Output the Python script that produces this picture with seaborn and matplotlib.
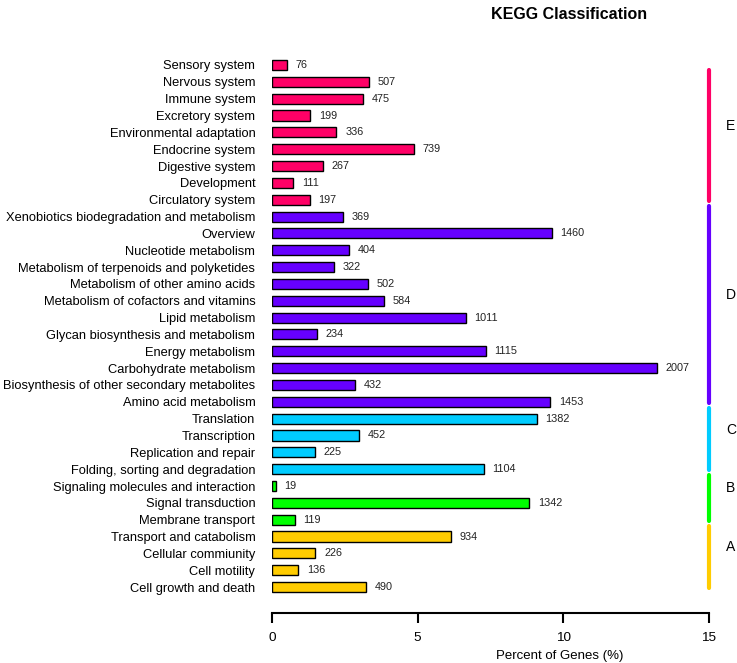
import seaborn as sns
import matplotlib.pyplot as plt
import pandas as pd

# KEGG level-2 categories, listed top to bottom as in the chart
categories = [
    "Sensory system", "Nervous system", "Immune system", "Excretory system",
    "Environmental adaptation", "Endocrine system", "Digestive system",
    "Development", "Circulatory system",
    "Xenobiotics biodegradation and metabolism", "Overview",
    "Nucleotide metabolism", "Metabolism of terpenoids and polyketides",
    "Metabolism of other amino acids", "Metabolism of cofactors and vitamins",
    "Lipid metabolism", "Glycan biosynthesis and metabolism",
    "Energy metabolism", "Carbohydrate metabolism",
    "Biosynthesis of other secondary metabolites", "Amino acid metabolism",
    "Translation", "Transcription", "Replication and repair",
    "Folding, sorting and degradation",
    "Signaling molecules and interaction", "Signal transduction",
    "Membrane transport",
    "Transport and catabolism", "Cellular commiunity", "Cell motility",
    "Cell growth and death",
]
gene_counts = [
    76, 507, 475, 199, 336, 739, 267, 111, 197,
    369, 1460, 404, 322, 502, 584, 1011, 234, 1115, 2007, 432, 1453,
    1382, 452, 225, 1104,
    19, 1342, 119,
    934, 226, 136, 490,
]
groups = ["E"] * 9 + ["D"] * 12 + ["C"] * 4 + ["B"] * 3 + ["A"] * 4
total_genes = 15200  # (2007 genes ~ 13.2 %)

group_colors = {"E": "#FF0066", "D": "#6600FF", "C": "#00CCFF",
                "B": "#00FF00", "A": "#FFCC00"}

df = pd.DataFrame({"category": categories, "count": gene_counts, "group": groups})
df["percent"] = df["count"] / total_genes * 100

sns.set_style("white")
plt.rcParams["font.family"] = ["Liberation Sans", "DejaVu Sans"]
plt.rcParams.update({"text.color": "black", "axes.labelcolor": "black",
                     "xtick.color": "black", "ytick.color": "black",
                     "axes.edgecolor": "black"})

fig = plt.figure(figsize=(7.37, 6.63), dpi=100)
ax = fig.add_axes([0.3691, 0.0754, 0.5929, 0.8647])

sns.barplot(data=df, y="category", x="percent", hue="group",
            palette=group_colors, saturation=1, dodge=False, width=0.6,
            edgecolor="black", linewidth=1.0, legend=False, ax=ax)

# gene counts at the end of each bar
for i, row in df.iterrows():
    ax.text(row["percent"] + 0.3, i, str(row["count"]), va="center",
            ha="left", fontsize=7.8, color="#222222")

# group brackets on the right
for g in ["E", "D", "C", "B", "A"]:
    idx = df.index[df["group"] == g]
    top = max(idx.min() - 0.63, 0.3)
    bottom = idx.max() + 0.06
    ax.plot([15, 15], [top, bottom], color=group_colors[g], lw=3,
            solid_capstyle="round", clip_on=False)
    ax.text(15.75, (top + bottom) / 2 - 0.57, g, ha="center", va="center",
            fontsize=10, clip_on=False)

ax.set_xlim(0, 15)
ax.set_ylim(32.54, -1.5)
ax.set_xticks([0, 5, 10, 15])
ax.tick_params(axis="x", length=7, width=1.5, labelsize=9.7, pad=7,
               direction="out", bottom=True)
ax.tick_params(axis="y", length=0, labelsize=9.3, pad=12)
ax.set_ylabel("")
ax.set_xlabel("Percent of Genes (%)", fontsize=9.5)
ax.xaxis.set_label_coords(0.659, -0.065)

for s in ["top", "right", "left"]:
    ax.spines[s].set_visible(False)
ax.spines["bottom"].set_linewidth(1.5)
ax.spines["bottom"].set_bounds(0, 15)

fig.text(0.772, 0.978, "KEGG Classification", ha="center", va="center",
         fontsize=11.5, fontweight="bold")

plt.savefig("out.png", dpi=100)
plt.close()
